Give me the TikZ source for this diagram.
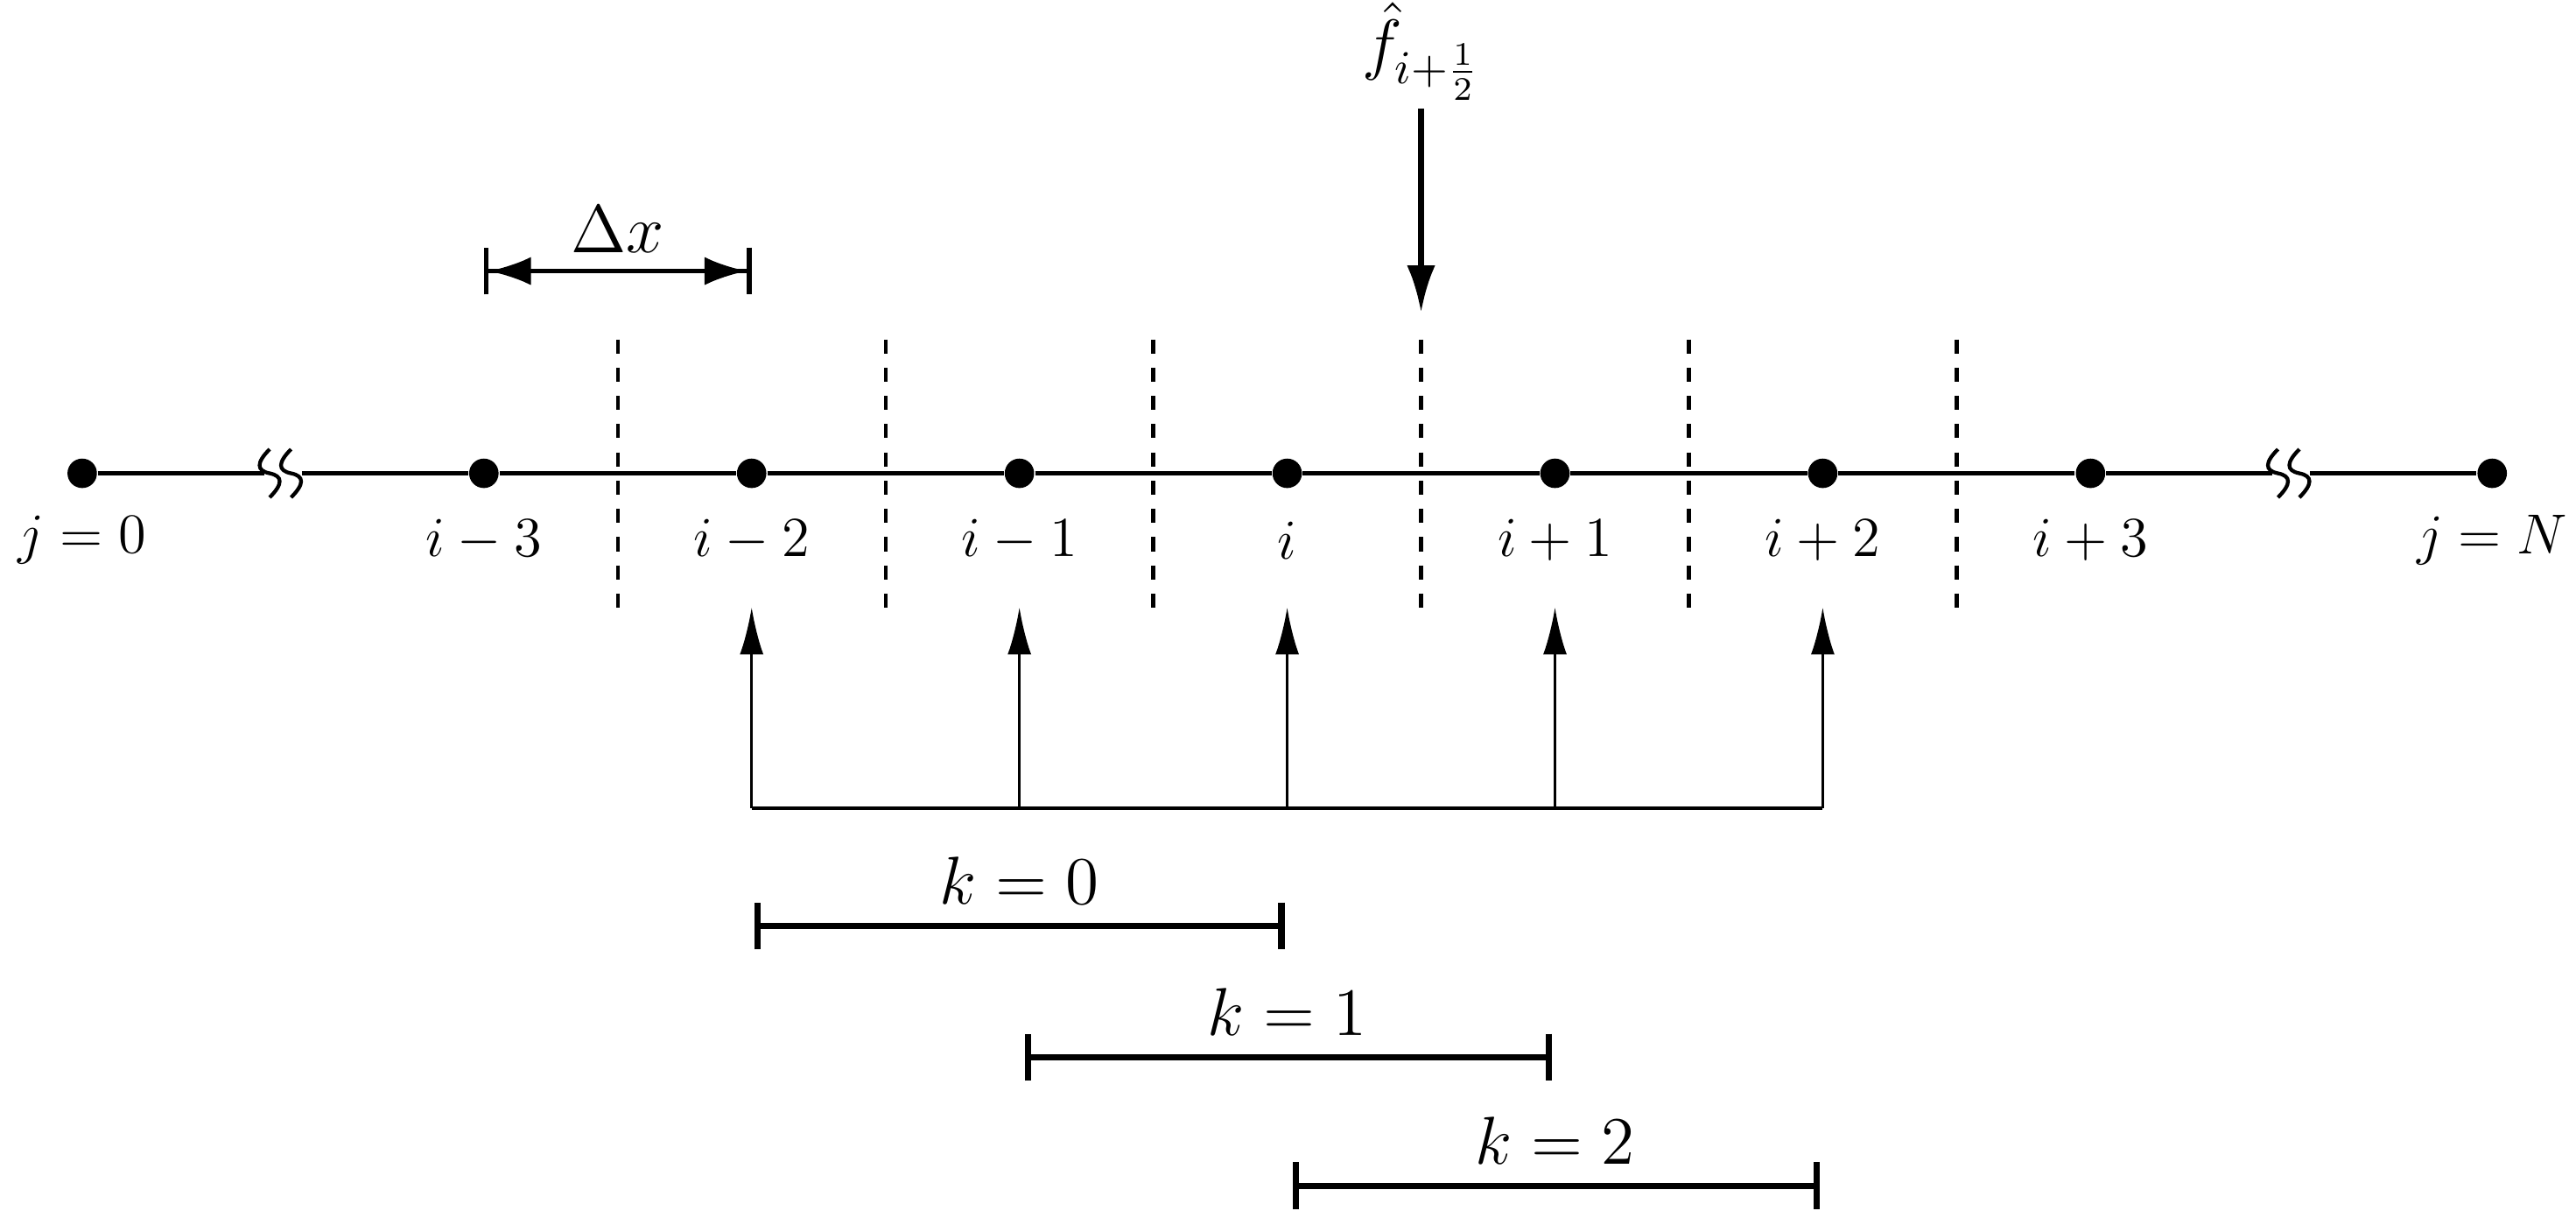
\documentclass[tikz,border=0pt]{standalone}
\usetikzlibrary{arrows.meta}
\begin{document}
\begin{tikzpicture}[x=2cm,y=2cm,
 dot/.style={circle,fill=black,inner sep=0pt,minimum size=0.22cm},
 lab/.style={inner sep=0pt},
 bar/.style={line width=1.4pt,{|[width=10pt]}-{|[width=10pt]}}]
\useasboundingbox (-0.307,-2.804) rectangle (9.313,1.767);
\foreach \n/\x in {j0/0,a/1.5,b/2.5,c/3.5,d/4.5,e/5.5,f/6.5,g/7.5,jN/9}
  \node[dot] (\n) at (\x,0) {};
\draw[line width=1pt] (j0) -- (0.68,0);
\draw[line width=1pt] (0.82,0) -- (a) -- (b) -- (c) -- (d) -- (e) -- (f) -- (g) -- (8.18,0);
\draw[line width=1pt] (8.32,0) -- (jN);
\foreach \x in {0.70,0.78,8.20,8.28}
  \draw[line width=0.8pt] (\x,0.09) .. controls (\x-0.05,0.04) and (\x-0.05,0.01) .. (\x,0) .. controls (\x+0.05,-0.01) and (\x+0.05,-0.04) .. (\x,-0.09);
\foreach \n/\x/\t in {lj0/0/{j=0},la/1.5/{i-3},lb/2.5/{i-2},lc/3.5/{i-1},ld/4.5/{i},le/5.5/{i+1},lf/6.5/{i+2},lg/7.5/{i+3},ljN/9/{j=N}}
  \node[lab] (\n) at (\x,-0.25) {\large$\t$};
\foreach \x in {2,3,4,5,6,7}
  \draw[dashed,line width=0.8pt] (\x,0.5) -- (\x,-0.5);
\coordinate (dxl) at (1.5,0.755); \coordinate (dxr) at (2.5,0.755);
\draw[line width=1pt,{Bar[width=10pt]Latex[length=9pt,width=6pt]}-{Latex[length=9pt,width=6pt]Bar[width=10pt]}] (dxl) -- (dxr);
\node[lab] (dx) at (2,0.91) {\Large$\Delta x$};
\node[lab,anchor=south] (fh) at (5,1.39) {\Large$\hat f_{i+\frac12}$};
\coordinate (ft) at (5,1.36); \coordinate (fb) at (5,0.6);
\draw[line width=1.2pt,-{Latex[length=10pt,width=6pt]}] (ft) -- (fb);
\coordinate (sl) at (2.5,-1.25); \coordinate (sr) at (6.5,-1.25);
\draw[line width=0.6pt] (sl) -- (sr);
\foreach \x in {2.5,3.5,4.5,5.5,6.5}
  \draw[line width=0.6pt,-{Latex[length=10pt,width=5pt]}] (\x,-1.25) -- (\x,-0.5);
\draw[bar] (2.51,-1.69) -- (4.49,-1.69);
\node[lab] (k0) at (3.5,-1.52) {\Large$k=0$};
\draw[bar] (3.52,-2.18) -- (5.49,-2.18);
\node[lab] (k1) at (4.5,-2.01) {\Large$k=1$};
\draw[bar] (4.52,-2.66) -- (6.49,-2.66);
\node[lab] (k2) at (5.5,-2.49) {\Large$k=2$};
\end{tikzpicture}
\end{document}
